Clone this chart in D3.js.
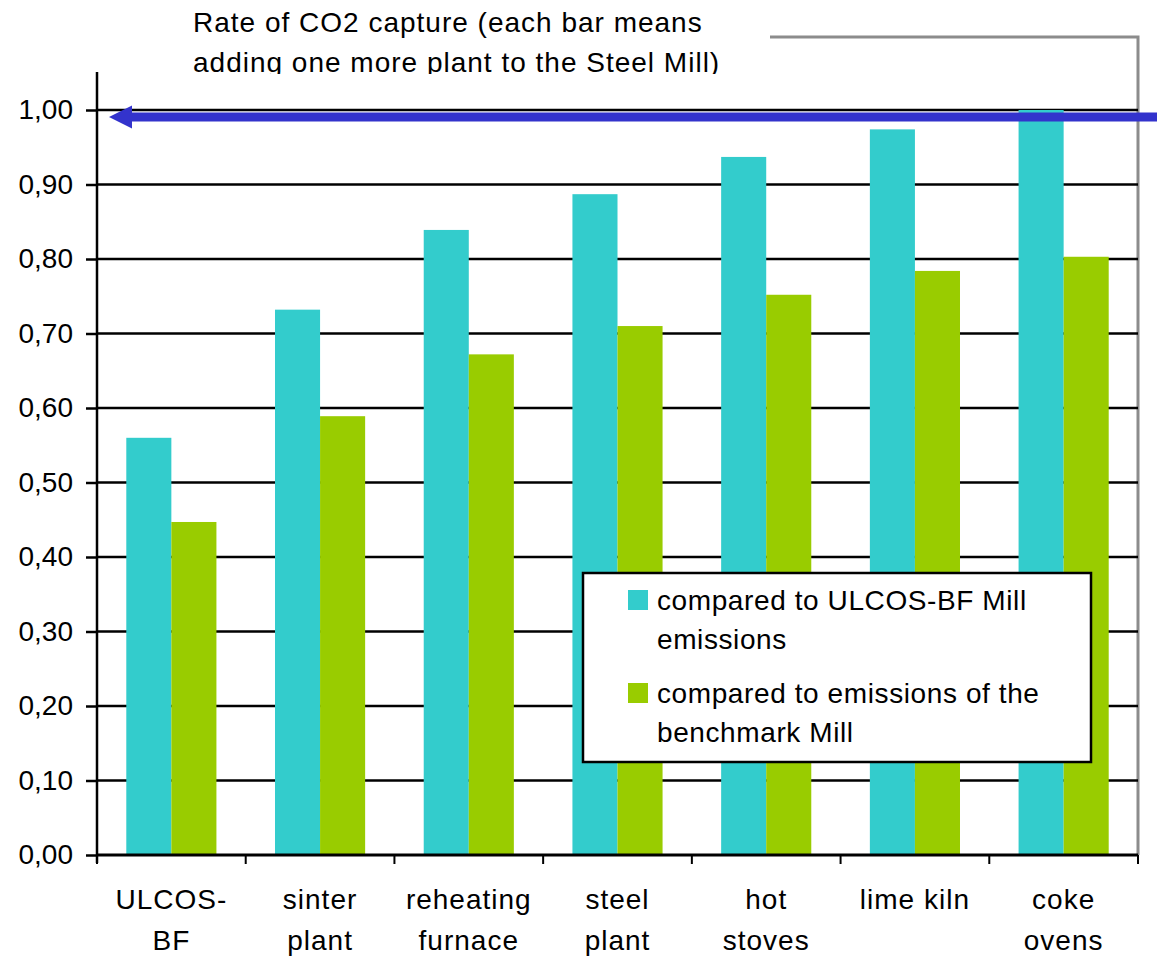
<!DOCTYPE html>
<html>
<head>
<meta charset="utf-8">
<script src="https://cdn.jsdelivr.net/npm/d3@7"></script>
<style>
  body { margin: 0; background: #fff; }
  text { font-family: "Liberation Sans", Arial, sans-serif; fill: #000; letter-spacing: 1px; }
</style>
</head>
<body>
<div id="chart"></div>
<script>
var categories = [["ULCOS-", "BF"], ["sinter", "plant"], ["reheating", "furnace"], ["steel", "plant"], ["hot", "stoves"], ["lime kiln"], ["coke", "ovens"]];
var ulcosValues = [0.560, 0.732, 0.839, 0.887, 0.937, 0.974, 1.000];
var benchValues = [0.447, 0.589, 0.672, 0.710, 0.752, 0.784, 0.803];
var seriesNames = [["compared to ULCOS-BF Mill", "emissions"], ["compared to emissions of the", "benchmark Mill"]];
var yTicks = [0, 0.1, 0.2, 0.3, 0.4, 0.5, 0.6, 0.7, 0.8, 0.9, 1.0];
var titleLines = ["Rate of CO2 capture (each bar means", "adding one more plant to the Steel Mill)"];

var param = {
  width : 1157,
  height : 957,
  left : 97,
  right : 1138,
  top : 37,
  bottom : 855,
  colors : ["#33cccc", "#99cc00"],
  fontSize : 28
};

var locale = d3.formatLocale({decimal: ",", thousands: ".", grouping: [3], currency: ["", ""]});
var fmt = locale.format(".2f");

var svg = d3.select("#chart").append("svg")
            .attr("width", param.width)
            .attr("height", param.height);

var x = d3.scaleBand()
          .domain(d3.range(categories.length))
          .range([param.left, param.right]);

var inner = d3.scaleBand()
              .domain([0, 1])
              .range([0, x.bandwidth()])
              .paddingOuter(0.65);

var y = d3.scaleLinear()
          .domain([0, 1])
          .range([param.bottom, 110]);

// gray frame (top + right)
svg.append("path")
   .attr("d", "M770," + param.top + "H" + param.right + "V" + param.bottom)
   .style("fill", "none")
   .style("stroke", "#8c8c8c")
   .style("stroke-width", 3);

// gridlines
svg.selectAll(".grid")
   .data(yTicks.slice(1))
   .enter().append("line")
   .attr("x1", param.left)
   .attr("x2", param.right)
   .attr("y1", function(d) {return y(d)})
   .attr("y2", function(d) {return y(d)})
   .style("stroke", "#000")
   .style("stroke-width", 2.5);

// bars
var series = [ulcosValues, benchValues];
series.forEach(function(vals, s) {
  svg.selectAll(".bar" + s)
     .data(vals)
     .enter().append("rect")
     .attr("x", function(d, i) {return x(i) + inner(s)})
     .attr("y", function(d) {return y(d)})
     .attr("width", inner.bandwidth())
     .attr("height", function(d) {return y(0) - y(d)})
     .style("fill", param.colors[s]);
});

// y axis
var yAxis = d3.axisLeft(y)
              .tickValues(yTicks)
              .tickFormat(fmt)
              .tickSize(11)
              .tickPadding(13);
var gy = svg.append("g")
            .attr("transform", "translate(" + param.left + ",0)")
            .call(yAxis);
gy.select(".domain").remove();
gy.selectAll(".tick line").style("stroke", "#000").style("stroke-width", 2.5);
gy.selectAll(".tick text")
  .style("font-size", param.fontSize + "px")
  .style("letter-spacing", "0px")
  .style("font-family", "'Liberation Sans', Arial, sans-serif");
svg.append("line")
   .attr("x1", param.left).attr("x2", param.left)
   .attr("y1", 72).attr("y2", param.bottom + 8)
   .style("stroke", "#000").style("stroke-width", 2.5);

// x axis
svg.append("line")
   .attr("x1", param.left).attr("x2", param.right)
   .attr("y1", param.bottom).attr("y2", param.bottom)
   .style("stroke", "#000").style("stroke-width", 3);
var bounds = d3.range(categories.length + 1);
svg.selectAll(".xtick")
   .data(bounds)
   .enter().append("line")
   .attr("x1", function(d) {return d < categories.length ? x(d) : param.right})
   .attr("x2", function(d) {return d < categories.length ? x(d) : param.right})
   .attr("y1", param.bottom)
   .attr("y2", param.bottom + 9)
   .style("stroke", "#000")
   .style("stroke-width", 2);

var xLabels = svg.selectAll(".xlabel")
                 .data(categories)
                 .enter().append("text")
                 .attr("x", function(d, i) {return x(i) + x.bandwidth()/2})
                 .attr("y", 909)
                 .style("font-size", param.fontSize + "px")
                 .style("text-anchor", "middle");
xLabels.selectAll("tspan")
       .data(function(d) {return d})
       .enter().append("tspan")
       .attr("x", function() {return d3.select(this.parentNode).attr("x")})
       .attr("dy", function(d, i) {return i == 0 ? 0 : 41})
       .text(function(d) {return d});

// title (clipped at bottom as in the original)
svg.append("clipPath").attr("id", "titleClip")
   .append("rect").attr("x", 0).attr("y", 0).attr("width", 765).attr("height", 74);
svg.append("rect")
   .attr("x", 180).attr("y", 0).attr("width", 585).attr("height", 74)
   .style("fill", "#fff");
svg.append("g").attr("clip-path", "url(#titleClip)")
   .selectAll("text")
   .data(titleLines)
   .enter().append("text")
   .attr("x", 193)
   .attr("y", function(d, i) {return 32 + i*40})
   .style("font-size", param.fontSize + "px")
   .text(function(d) {return d});

// arrow pointing at 1,00
var arrowY = y(1) + 7;
svg.append("path")
   .attr("d", "M" + param.width + "," + (arrowY - 4.5) + "H132V" + (arrowY - 11.5) + "L109," + arrowY +
              "L132," + (arrowY + 11.5) + "V" + (arrowY + 4.5) + "H" + param.width + "Z")
   .style("fill", "#3333cc");

// legend
var legend = svg.append("g").attr("transform", "translate(583,573)");
legend.append("rect")
      .attr("width", 508).attr("height", 189)
      .style("fill", "#fff")
      .style("stroke", "#000")
      .style("stroke-width", 2.5);
var items = legend.selectAll(".item")
                  .data(seriesNames)
                  .enter().append("g")
                  .attr("transform", function(d, i) {return "translate(0," + (i*93) + ")"});
items.append("rect")
     .attr("x", 45).attr("y", 17).attr("width", 20).attr("height", 20)
     .style("fill", function(d, i) {return param.colors[i]});
items.append("text")
     .attr("x", 74)
     .attr("y", 37)
     .style("font-size", param.fontSize + "px")
     .style("letter-spacing", "0.6px")
     .selectAll("tspan")
     .data(function(d) {return d})
     .enter().append("tspan")
     .attr("x", 74)
     .attr("dy", function(d, i) {return i == 0 ? 0 : 39})
     .text(function(d) {return d});
</script>
</body>
</html>
